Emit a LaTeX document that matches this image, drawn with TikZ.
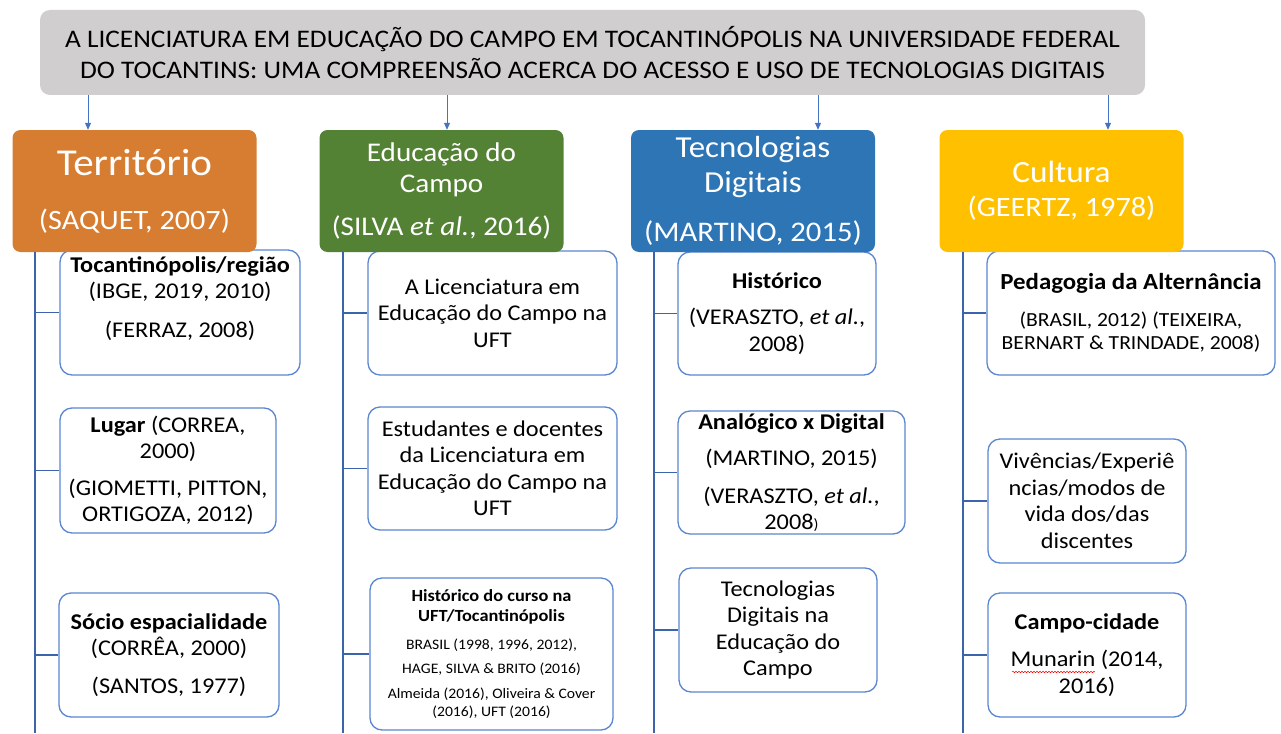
\documentclass[tikz,border=0pt]{standalone}
\usepackage{fontspec}
\setmainfont{Carlito}[FakeStretch=1.08]
\usepackage{tikz}
\usetikzlibrary{arrows.meta,decorations.pathmorphing}
\def\fs#1#2{\fontsize{#1}{#2}\selectfont}

\definecolor{cinza}{HTML}{D0CECE}
\definecolor{laranja}{HTML}{D67D32}
\definecolor{verde}{HTML}{548235}
\definecolor{azul}{HTML}{2E75B6}
\definecolor{ouro}{HTML}{FFC000}
\definecolor{borda}{HTML}{5B86D0}
\definecolor{tronco}{HTML}{3B64AD}
\definecolor{seta}{HTML}{4472C4}

\tikzset{
	titulo/.style={fill=cinza, rounded corners=10, minimum width=1105, minimum height=85, inner sep=2, align=center, font=\fs{25.3}{31}},
	cabeca/.style={rounded corners=8, minimum width=244, minimum height=122, inner sep=2, align=center, text=white},
	caixa/.style={draw=borda, line width=1.3, rounded corners=12, fill=white, inner sep=2, align=center, font=\fs{22.5}{26.5}},
	flecha/.style={-{Triangle[length=7,width=6]}, draw=seta, line width=0.9},
	linha/.style={draw=tronco, line width=1.6}
}

\begin{document}
\begin{tikzpicture}[x=1pt,y=-1pt]
			%%%%% START %%%%%
			\useasboundingbox (0,0) rectangle (1281,733);
			
			\node[titulo] (tit) at (592.5,52.5) {A LICENCIATURA EM EDUCAÇÃO DO CAMPO EM TOCANTINÓPOLIS NA UNIVERSIDADE FEDERAL\\DO TOCANTINS: UMA COMPREENSÃO ACERCA DO ACESSO E USO DE TECNOLOGIAS DIGITAIS};
			
			% colunas
			\coordinate (terfim) at (35,733);
			\coordinate (edufim) at (343,733);
			\coordinate (tecfim) at (654,733);
			\coordinate (culfim) at (963,733);
			
			\node[caixa, minimum width=240, minimum height=125] (ter1) at (180,312.5) {\textbf{Tocantinópolis/região}\\(IBGE, 2019, 2010)\\[12pt](FERRAZ, 2008)\\[5pt]\mbox{}};
			\node[caixa, minimum width=216, minimum height=125] (ter2) at (168,470.5) {\textbf{Lugar} (CORREA,\\2000)\\[10pt](GIOMETTI, PITTON,\\ORTIGOZA, 2012)};
			\node[caixa, minimum width=220, minimum height=124] (ter3) at (169,655) {\textbf{Sócio espacialidade}\\(CORRÊA, 2000)\\[11pt](SANTOS, 1977)};
			
			\node[caixa, minimum width=249, minimum height=124] (edu1) at (492.5,313) {A Licenciatura em\\Educação do Campo na\\UFT};
			\node[caixa, minimum width=249, minimum height=123] (edu2) at (492.5,468.5) {Estudantes e docentes\\da Licenciatura em\\Educação do Campo na\\UFT};
			\node[caixa, minimum width=243, minimum height=152, font=\fs{14.5}{18}] (edu3) at (491.5,654) {{\fs{17}{20}\bfseries Histórico do curso na}\\[2pt]{\fs{17}{20}\bfseries UFT/Tocantinópolis}\\[10pt]BRASIL (1998, 1996, 2012),\\[6pt]HAGE, SILVA \& BRITO (2016)\\[7pt]Almeida (2016), Oliveira \& Cover\\(2016), UFT (2016)};
			
			\node[caixa, minimum width=198, minimum height=123] (tec1) at (777,313.5) {\textbf{Histórico}\\[10pt](VERASZTO, \textit{et al.},\\2008)};
			\node[caixa, minimum width=227, minimum height=123] (tec2) at (791.5,472.5) {\textbf{Analógico x Digital}\\[10pt](MARTINO, 2015)\\[11pt](VERASZTO, \textit{et al.},\\2008{\fs{15}{18})}};
			\node[caixa, minimum width=198, minimum height=124] (tec3) at (778,630) {Tecnologias\\Digitais na\\Educação do\\Campo};
			
			\node[caixa, minimum width=288, minimum height=124, font=\fs{20}{23}] (cul1) at (1131,313) {{\fs{23}{27}\bfseries Pedagogia da Alternância}\\[14pt](BRASIL, 2012) (TEIXEIRA,\\BERNART \& TRINDADE, 2008)};
			\node[caixa, minimum width=198, minimum height=124] (cul2) at (1087,501) {Vivências/Experiê\\ncias/modos de\\vida dos/das\\discentes};
			\node[caixa, minimum width=198, minimum height=124] (cul3) at (1087,655) {\textbf{Campo-cidade}\\[11pt]Munarin (2014,\\2016)};
			\draw[red, line width=0.5, decorate, decoration={snake, amplitude=0.8, segment length=3}] (1012,672) -- (1095,672);
			
			% cabecalhos
			\node[cabeca, fill=laranja, font=\fs{28}{34}] (ter) at (134.5,191) {{\fs{38}{46}Território}\\[20pt](SAQUET, 2007)};
			\node[cabeca, fill=verde, font=\fs{27}{31}] (edu) at (441.5,191) {Educação do\\Campo\\[12pt](SILVA \textit{et al.}, 2016)};
			\node[cabeca, fill=azul, font=\fs{28.4}{35}] (tec) at (753,191) {{\fs{30.5}{35}Tecnologias}\\{\fs{30.5}{35}Digitais}\\[14pt](MARTINO, 2015)};
			\node[cabeca, fill=ouro, font=\fs{28}{34}] (cul) at (1061.5,191) {{\fs{30.8}{34}Cultura}\\(GEERTZ, 1978)};
			
			% setas
			\coordinate (s1) at (88,0);
			\coordinate (s2) at (447,0);
			\coordinate (s3) at (818,0);
			\coordinate (s4) at (1108,0);
			\draw[flecha] (tit.south -| s1) -- (ter.north -| s1);
			\draw[flecha] (tit.south -| s2) -- (edu.north -| s2);
			\draw[flecha] (tit.south -| s3) -- (tec.north -| s3);
			\draw[flecha] (tit.south -| s4) -- (cul.north -| s4);
			
			% troncos
			\draw[linha] (terfim |- ter.south) -- (terfim);
			\draw[linha] (edufim |- edu.south) -- (edufim);
			\draw[linha] (tecfim |- tec.south) -- (tecfim);
			\draw[linha] (culfim |- cul.south) -- (culfim);
			\foreach \c in {ter,edu,tec,cul}{
				\foreach \i in {1,2,3}{
					\draw[linha] (\c fim |- \c\i.west) -- (\c\i.west);
				}
			}
			
			%%%%% END %%%%%
\end{tikzpicture}
\end{document}
